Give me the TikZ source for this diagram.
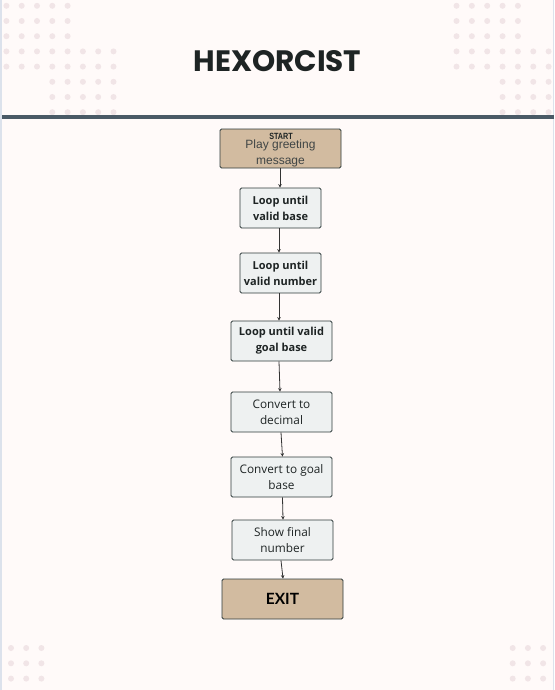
\documentclass[tikz,border=0pt]{standalone}
\usepackage{fontspec}
\setmainfont{Open Sans}
\newfontfamily\exitfont{Lato}
\newfontfamily\titlefont{Poppins}
\newfontfamily\startfont{Liberation Sans}
\usetikzlibrary{arrows.meta}
\definecolor{bgc}{HTML}{FFFAF9}
\definecolor{dotc}{HTML}{F1E5E7}
\definecolor{rulec}{HTML}{4A5A66}
\definecolor{edgec}{HTML}{DCE2EC}
\definecolor{tanc}{HTML}{D2BBA0}
\definecolor{grayc}{HTML}{EEF1F1}
\definecolor{bordc}{HTML}{2E3B3B}
\definecolor{inkc}{HTML}{1E2424}
\tikzset{
  dotmark/.style={circle,fill=dotc,draw=none,minimum size=6pt,inner sep=0pt},
  tanbox/.style={draw=bordc,fill=tanc,line width=0.8pt,rounded corners=1.5pt,inner sep=0pt},
  graybox/.style={draw=bordc,fill=grayc,line width=0.8pt,rounded corners=1.5pt,inner sep=0pt,align=center,text=inkc,font=\fontsize{11.8}{16}\selectfont},
  loopbox/.style={graybox,font=\bfseries\fontsize{11}{16}\selectfont},
  flow/.style={draw=black!80,line width=0.8pt,-{Stealth[length=3.5pt,width=3.5pt]}}
}
\begin{document}
\begin{tikzpicture}[x=1pt,y=-1pt]
\useasboundingbox (0,0) rectangle (554,690);
\fill[bgc] (0,0) rectangle (554,690);
\fill[edgec] (0,0) rectangle (1.5,690);
\fill[edgec] (552.5,0) rectangle (554,690);
% dots top left
\foreach \r in {0,1,2}{\foreach \c in {0,...,4}{\node[dotmark] at ({6.4+15.3*\c},{5.8+15.2*\r}) {};}}
\foreach \r in {3,4}{\foreach \c in {0,...,7}{\node[dotmark] at ({6.4+15.3*\c},{5.8+15.2*\r}) {};}}
\foreach \r in {5,6,7}{\foreach \c in {3,...,7}{\node[dotmark] at ({6.4+15.3*\c},{5.8+15.2*\r}) {};}}
% dots top right
\foreach \r in {0,1,2}{\foreach \c in {0,...,4}{\node[dotmark] at ({456.5+15.35*\c},{5.8+15.2*\r}) {};}}
\foreach \r in {3,4}{\foreach \c in {0,...,6}{\node[dotmark] at ({456.5+15.35*\c},{5.8+15.2*\r}) {};}}
\foreach \r in {5,6,7}{\foreach \c in {3,...,6}{\node[dotmark] at ({456.5+15.35*\c},{5.8+15.2*\r}) {};}}
% dots bottom
\foreach \r in {0,1,2}{\foreach \c in {0,1,2}{\node[dotmark] at ({11+15.2*\c},{648+15.3*\r}) {};}}
\foreach \r in {0,1,2}{\foreach \c in {0,1,2}{\node[dotmark] at ({512.7+15.2*\c},{648+15.3*\r}) {};}}
% rule
\fill[rulec] (1.5,115) rectangle (554,119);
% title
\node[text=inkc,font=\titlefont\bfseries\fontsize{29.5}{32}\selectfont] (title) at (277.5,61) {HEXORCIST};
% boxes
\node[tanbox,minimum width=121pt,minimum height=39pt] (b1) at (280.5,148.5) {};
\node[font=\startfont\bfseries\fontsize{9}{9}\selectfont,text=inkc,xscale=0.8] (b1a) at (281,136.5) {START};
\node[font=\startfont\fontsize{12}{16}\selectfont,text=inkc!85,align=center] (b1b) at (280.5,153.5) {Play greeting\\message};
\node[loopbox,minimum width=81pt,minimum height=40pt] (b2) at (280.5,208) {Loop until\\valid base};
\node[loopbox,minimum width=81pt,minimum height=40pt] (b3) at (280.5,273) {Loop until\\valid number};
\node[loopbox,minimum width=101pt,minimum height=40pt] (b4) at (281.5,341) {Loop until valid\\goal base};
\node[graybox,minimum width=101pt,minimum height=40pt] (b5) at (281.5,412) {Convert to\\decimal};
\node[graybox,minimum width=101pt,minimum height=40pt] (b6) at (281.5,477) {Convert to goal\\base};
\node[graybox,minimum width=101pt,minimum height=40pt] (b7) at (282.5,540) {Show final\\number};
\node[tanbox,minimum width=121pt,minimum height=40pt,font=\exitfont\bfseries\fontsize{15.5}{16}\selectfont,text=black] (b8) at (282.5,599) {EXIT};
% connectors
\draw[flow] ([xshift=-0.5pt]b1.south) -- ([xshift=-0.5pt]b2.north);
\draw[flow] ([xshift=-1.5pt]b2.south) -- ([xshift=-1.5pt]b3.north);
\draw[flow] ([xshift=-1.5pt]b3.south) -- ([xshift=-2.5pt]b4.north);
\draw[flow] ([xshift=-2.5pt]b4.south) -- ([xshift=-1.5pt]b5.north);
\draw[flow] ([xshift=-0.5pt]b5.south) -- ([xshift=1pt]b6.north);
\draw[flow] ([xshift=1pt]b6.south) -- ([xshift=0.5pt]b7.north);
\draw[flow] ([xshift=-1.5pt]b7.south) -- ([xshift=0.5pt]b8.north);
\end{tikzpicture}
\end{document}
